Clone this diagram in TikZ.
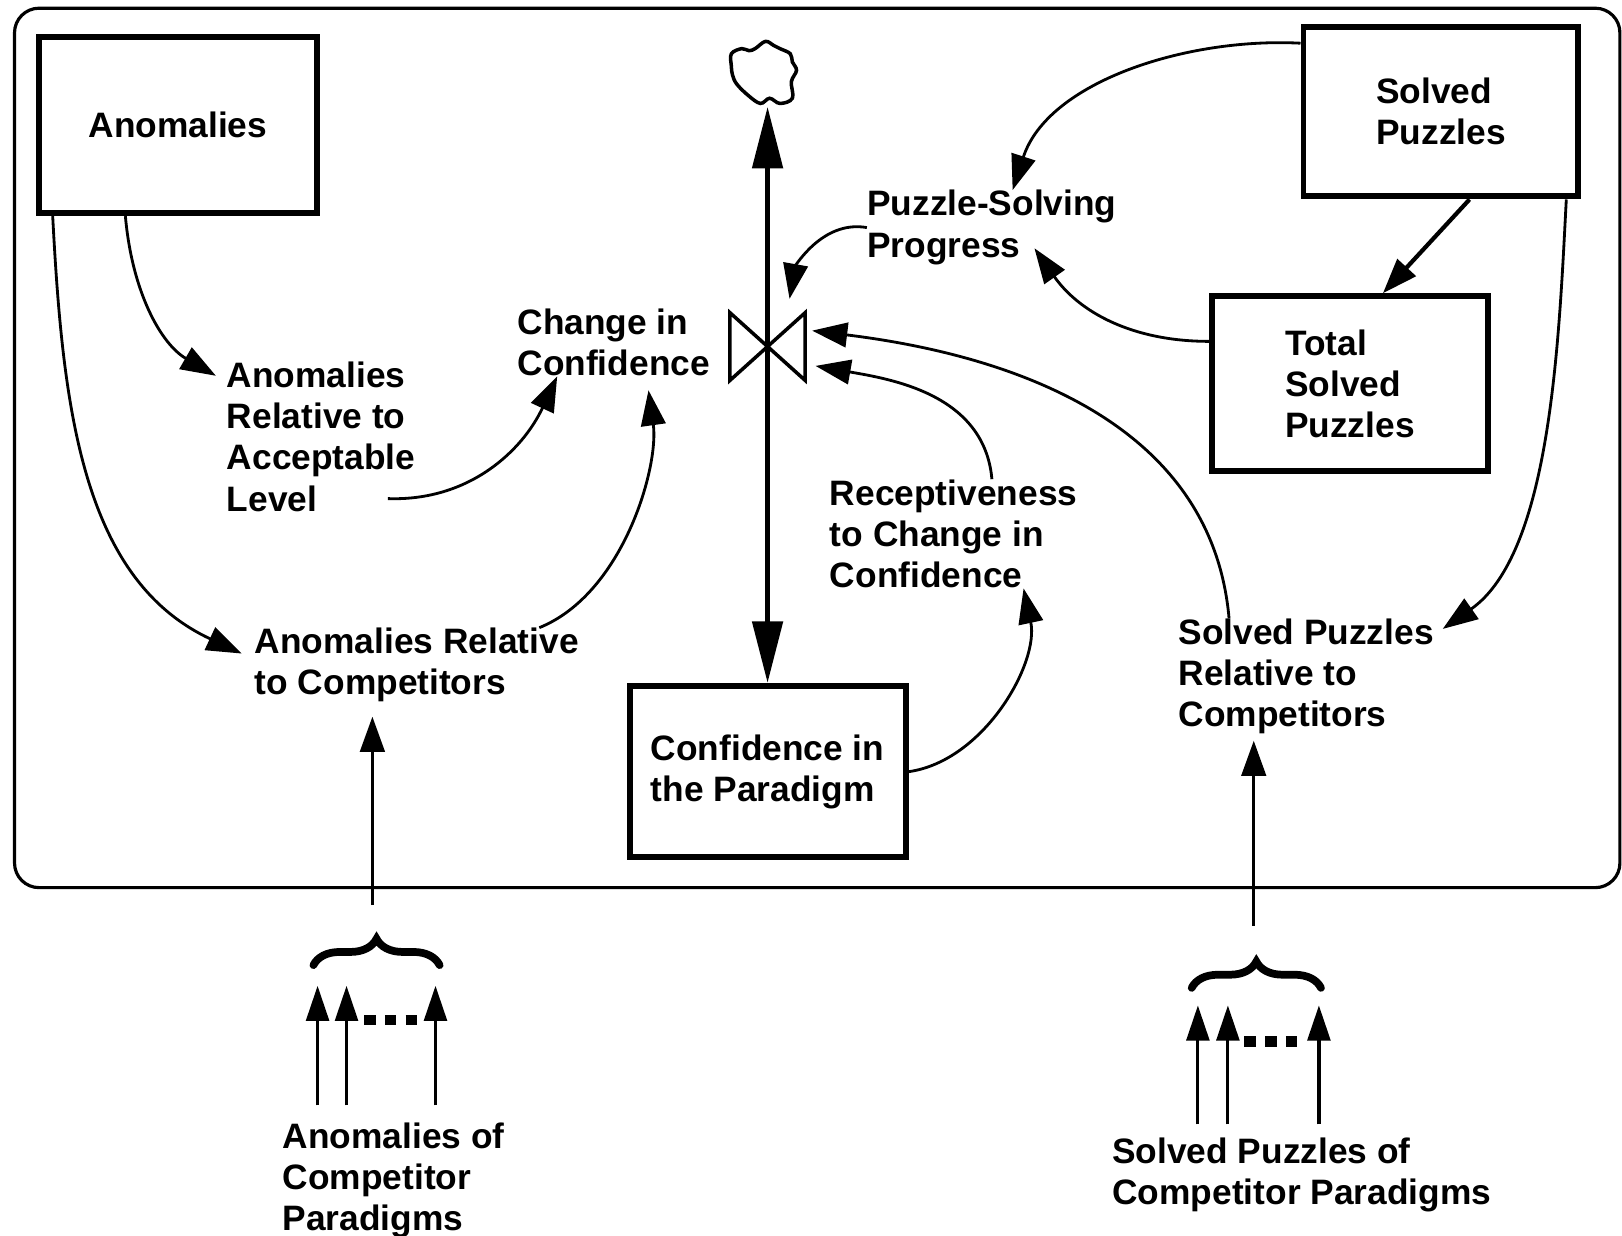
\documentclass[tikz,border=0pt]{standalone}
\usepackage{fontspec}
\setmainfont{Liberation Sans}
\usetikzlibrary{arrows.meta,decorations.pathreplacing}

\tikzset{
    box/.style={draw, line width=3.4pt, align=left},
    lbl/.style={inner sep=0, anchor=west, align=left},
    link/.style={-{Triangle[length=20pt,width=14pt]}, line width=1.6pt},
    flow/.style={-{Triangle[length=35pt,width=17pt]}, line width=3pt},
    tinyup/.style={-{Triangle[length=20pt,width=13pt]}, line width=1.8pt},
    curly/.style={decorate, decoration={brace, amplitude=15pt}, line width=4.4pt, line cap=round},
    dots/.style={line width=6pt, dash pattern=on 6.5pt off 5.3pt}
}

\begin{document}
\begin{tikzpicture}[x=0.02069cm, y=0.02069cm,
                    font=\fontsize{20.1}{23.5}\selectfont\bfseries]
                \useasboundingbox (0,0) rectangle (1568,-1194);
                \node (boundary) [draw, line width=1.8pt, rounded corners=14pt, minimum width=32.11cm, minimum height=17.59cm] at (790,-433) {};

                \node (anomalies) [box, minimum width=5.57cm, minimum height=3.52cm] at (172,-121) {Anomalies};
                \node (solved) [box, minimum width=5.5cm, minimum height=3.39cm] at (1393,-108) {Solved\\Puzzles};
                \node (total) [box, minimum width=5.52cm, minimum height=3.5cm] at (1305,-371) {Total\\Solved\\Puzzles};
                \node (paradigm) [box, minimum width=5.52cm, minimum height=3.43cm] at (742,-746) {Confidence in\\the Paradigm};

                \node (change) [lbl] at (500,-331) {Change in\\Confidence};
                \node (acceptable) [lbl] at (219,-422) {Anomalies\\Relative to\\Acceptable\\Level};
                \node (progress) [lbl] at (838,-220) {Puzzle-Solving\\Progress};
                \node (receptive) [lbl] at (802,-516) {Receptiveness\\to Change in\\Confidence};
                \node (anomcomp) [lbl] at (246,-643) {Anomalies Relative\\to Competitors};
                \node (solvedcomp) [lbl] at (1139,-654) {Solved Puzzles\\Relative to\\Competitors};
                \node (anomrivals) [lbl] at (273,-1141) {Anomalies of\\Competitor\\Paradigms};
                \node (solvedrivals) [lbl] at (1075,-1136) {Solved Puzzles of\\Competitor Paradigms};

                % valve and cloud
                \node (valve) [minimum width=1.49cm, minimum height=1.34cm, inner sep=0] at (742,-335) {};
                \draw [line width=2pt, line join=miter] (valve.north west) -- (valve.south east) -- (valve.north east) -- (valve.south west) -- cycle;
                \node (cloud) [inner sep=0, minimum width=1.3cm, minimum height=1.36cm] at (738,-70) {};
                \draw [line width=2pt] plot [smooth cycle, tension=0.6] coordinates {(707,-52) (717,-47) (724,-49) (730,-47) (740,-40) (748,-44) (754,-47) (764,-52) (766,-60) (770,-68) (765,-79) (766,-95) (754,-100) (744,-95) (735,-100) (723,-92) (712,-81) (708,-72) (707,-64)};
                \draw [flow] (valve.center) -- (cloud.south -| valve.center);
                \draw [flow] (valve.center) -- (paradigm.north -| valve.center);

                \coordinate (levelend) at (375,-482);
                \coordinate (progressend) at (1000,-240);

                \draw [link, shorten >=7pt] (anomalies.240) to [out=-85, in=150] (acceptable.150);
                \draw [link, shorten >=8pt] (anomalies.216.3) to [out=-87, in=155] (anomcomp.178);
                \draw [link] (levelend) to [out=-2, in=-115] (change.211);
                \draw [link, shorten >=8pt] (anomcomp.17) to [out=22, in=-82, looseness=0.85] (change.-46);
                \draw [link] (paradigm.east) to [out=8, in=-78, looseness=0.9] (receptive.-38.5);
                \draw [link, shorten >=6pt] (receptive.55) to [out=95, in=-10] (valve.-25);
                \draw [link, shorten >=4pt] (solvedcomp.143) to [out=95, in=-7] (valve.24);
                \draw [link, shorten >=8pt] (progress.west) to [out=170, in=80] (valve.60);
                \draw [link] (solved.154) to [out=177, in=72, looseness=0.9] (progress.61);
                \draw [link] (total.west |- 0,-330) to [out=180, in=-55] (progressend);
                \draw [link, line width=2.4pt] (solved.288) -- (total.70);
                \draw [link, shorten >=6pt] (solved.-35) to [out=-93, in=35, looseness=0.8] (solvedcomp.18);

                % left bundle
                \draw [curly] (303,-933) coordinate (leftfoot) -- (425,-933);
                \coordinate (leftstem) at (360,-875);
                \draw [link, shorten >=8pt] (leftstem) -- (anomcomp.south -| leftstem);
                \coordinate (l1) at (307,-953);
                \coordinate (l2) at (335,-953);
                \coordinate (l3) at (421,-953);
                \draw [tinyup, shorten <=9.5pt] (l1 |- anomrivals.north) -- (l1);
                \draw [tinyup, shorten <=9.5pt] (l2 |- anomrivals.north) -- (l2);
                \draw [tinyup, shorten <=9.5pt] (l3 |- anomrivals.north) -- (l3);
                \draw [dots] (352,-986) -- (403,-986);

                % right bundle
                \draw [curly] (1152,-955) coordinate (rightfoot) -- (1277,-955);
                \coordinate (rightstem) at (1212,-895);
                \draw [link, shorten >=3.5pt] (rightstem) -- (solvedcomp.south -| rightstem);
                \coordinate (r1) at (1158,-972);
                \coordinate (r2) at (1187,-972);
                \coordinate (r3) at (1275,-972);
                \draw [tinyup, shorten <=7.5pt] (r1 |- solvedrivals.north) -- (r1);
                \draw [tinyup, shorten <=7.5pt] (r2 |- solvedrivals.north) -- (r2);
                \draw [tinyup, shorten <=7.5pt] (r3 |- solvedrivals.north) -- (r3);
                \draw [dots] (1203,-1007) -- (1254,-1007);
            \end{tikzpicture}
\end{document}
